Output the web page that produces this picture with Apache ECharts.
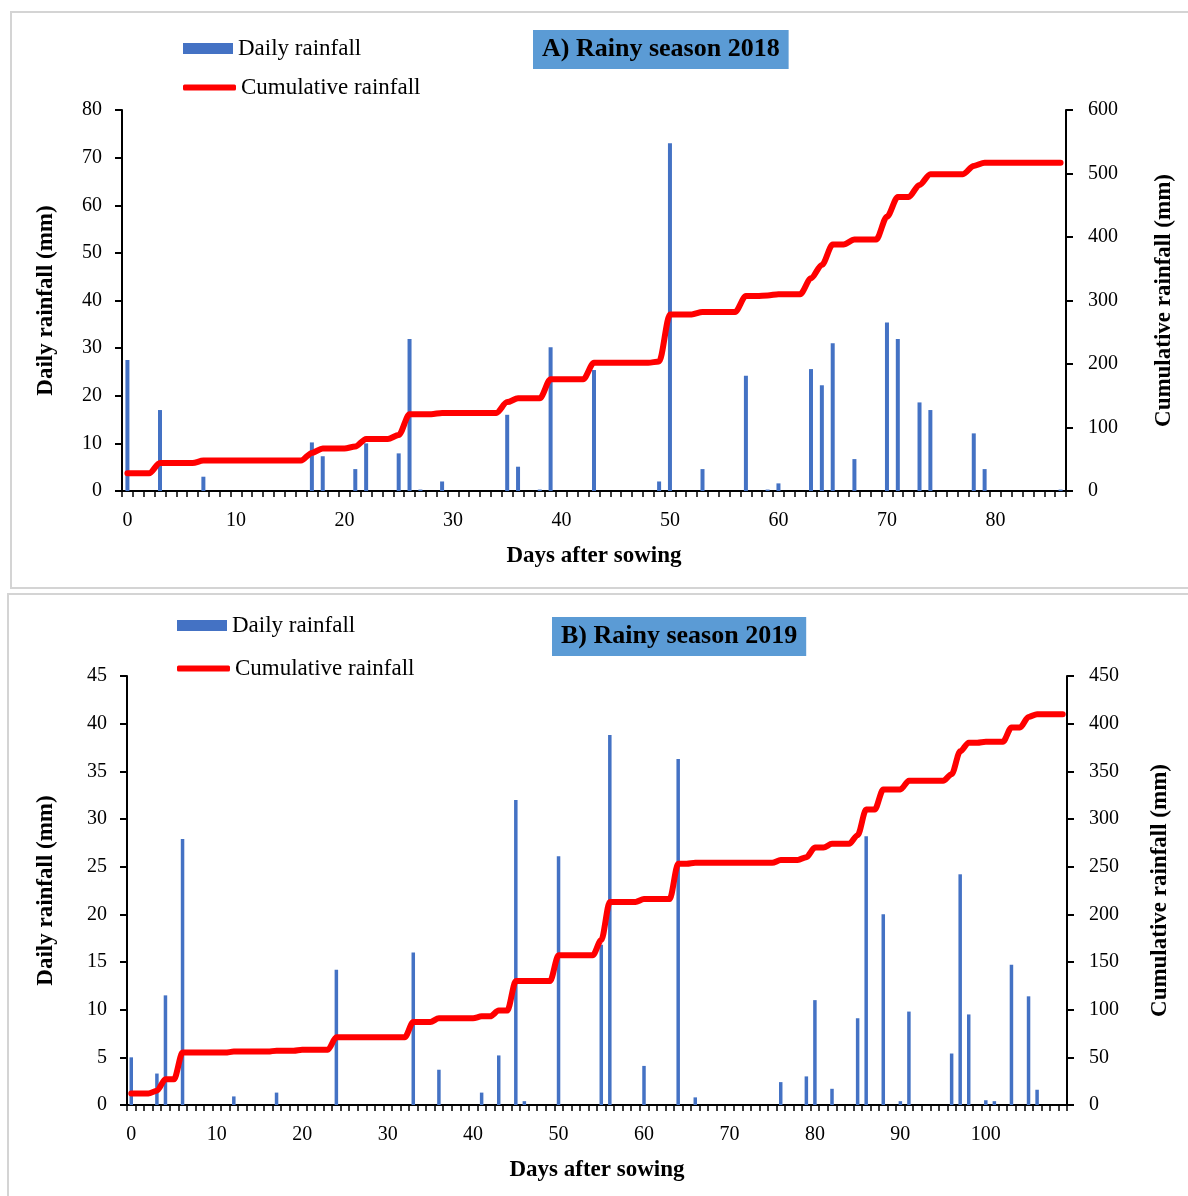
<!DOCTYPE html>
<html>
<head>
<meta charset="utf-8">
<title>Rainfall</title>
<script src="https://cdn.jsdelivr.net/npm/echarts@6/dist/echarts.min.js"></script>
<style>
  html, body { margin: 0; padding: 0; background: #fff; }
  #chart { width: 1188px; height: 1196px; }
</style>
</head>
<body>
<div id="chart"></div>
<script>
// A) Rainy season 2018, days 0..86 (mm)
const daily2018 = [
  27.5, 0, 0, 17.0, 0, 0, 0, 3.0, 0, 0,
  0, 0, 0, 0, 0, 0, 0, 10.2, 7.3, 0,
  0, 4.6, 10.0, 0, 0, 7.9, 31.9, 0.3, 0, 2.0,
  0, 0, 0, 0, 0, 16.0, 5.1, 0, 0.3, 30.2,
  0, 0, 0, 25.4, 0, 0, 0, 0, 0, 2.0,
  73.0, 0, 0, 4.6, 0, 0, 0, 24.2, 0, 0.3,
  1.6, 0, 0, 25.6, 22.2, 31.0, 0, 6.7, 0, 0,
  35.4, 31.9, 0, 18.6, 17.0, 0, 0, 0, 12.1, 4.6,
  0, 0, 0, 0, 0, 0, 0.3
]
const cum2018 = [
  28, 28, 28, 44, 44, 44, 44, 48, 48, 48,
  48, 48, 48, 48, 48, 48, 48, 60, 67, 67,
  67, 70, 82, 82, 82, 88, 121, 121, 121, 123,
  123, 123, 123, 123, 123, 140, 146, 146, 146, 176,
  176, 176, 176, 202, 202, 202, 202, 202, 202, 204,
  278, 278, 278, 282, 282, 282, 282, 307, 307, 308,
  310, 310, 310, 335, 356, 388, 388, 396, 396, 396,
  432, 463, 463, 482, 499, 499, 499, 499, 512, 517,
  517, 517, 517, 517, 517, 517, 517
]

// B) Rainy season 2019, days 0..109 (mm)
const daily2019 = [
  5.0, 0, 0, 3.3, 11.5, 0, 27.9, 0, 0, 0,
  0, 0, 0.9, 0, 0, 0, 0, 1.3, 0, 0,
  0, 0, 0, 0, 14.2, 0, 0, 0, 0, 0,
  0, 0, 0, 16.0, 0, 0, 3.7, 0, 0, 0,
  0, 1.3, 0, 5.2, 0, 32.0, 0.4, 0, 0, 0,
  26.1, 0, 0, 0, 0, 16.8, 38.8, 0, 0, 0,
  4.1, 0, 0, 0, 36.3, 0, 0.8, 0, 0, 0,
  0, 0, 0, 0, 0, 0, 2.4, 0, 0, 3.0,
  11.0, 0, 1.7, 0, 0, 9.1, 28.2, 0, 20.0, 0,
  0.4, 9.8, 0, 0, 0, 0, 5.4, 24.2, 9.5, 0,
  0.5, 0.4, 0, 14.7, 0, 11.4, 1.6, 0, 0, 0
]
const cum2019 = [
  12, 12, 12, 15, 27, 27, 55, 55, 55, 55,
  55, 55, 56, 56, 56, 56, 56, 57, 57, 57,
  58, 58, 58, 58, 71, 71, 71, 71, 71, 71,
  71, 71, 71, 87, 87, 87, 91, 91, 91, 91,
  91, 93, 93, 99, 99, 130, 130, 130, 130, 130,
  157, 157, 157, 157, 157, 173, 213, 213, 213, 213,
  216, 216, 216, 216, 253, 253, 254, 254, 254, 254,
  254, 254, 254, 254, 254, 254, 257, 257, 257, 260,
  270, 270, 274, 274, 274, 283, 310, 310, 331, 331,
  331, 340, 340, 340, 340, 340, 347, 371, 380, 380,
  381, 381, 381, 396, 396, 407, 410, 410, 410, 410
]

const days2018 = daily2018.map((v, i) => String(i))
const days2019 = daily2019.map((v, i) => String(i))

const font = '"Liberation Serif", "Times New Roman", serif'
const black = { color: '#000', width: 2 }

function xAxisOf (gridIndex, days) {
  return {
    type: 'category',
    gridIndex: gridIndex,
    data: days,
    boundaryGap: true,
    axisLine: { lineStyle: black },
    axisTick: { show: true, interval: 0, length: 6, lineStyle: { color: '#000', width: 1.5 } },
    axisLabel: { interval: 9, color: '#000', fontSize: 20, fontFamily: font, margin: 20 },
    name: 'Days after sowing',
    nameLocation: 'middle',
    nameGap: 54,
    nameTextStyle: { color: '#000', fontSize: 23, fontWeight: 'bold', fontFamily: font }
  }
}

function yAxisOf (gridIndex, position, max, interval, name, gap) {
  return {
    type: 'value',
    gridIndex: gridIndex,
    position: position,
    min: 0,
    max: max,
    interval: interval,
    splitLine: { show: false },
    axisLine: { show: true, lineStyle: black },
    axisTick: { show: true, length: 7, lineStyle: { color: '#000', width: 2 } },
    axisLabel: { color: '#000', fontSize: 20, fontFamily: font, margin: position === 'left' ? 20 : 22 },
    name: name,
    nameLocation: 'middle',
    nameRotate: 90,
    nameGap: gap,
    nameTextStyle: { color: '#000', fontSize: 23, fontWeight: 'bold', fontFamily: font }
  }
}

function legendOf (name, left, top, isLine) {
  return {
    data: [{ name: name, icon: isLine ? 'roundRect' : 'rect' }],
    left: left,
    top: top,
    padding: 0,
    itemWidth: isLine ? 53 : 50,
    itemHeight: isLine ? 6 : 11,
    selectedMode: false,
    textStyle: { color: '#000', fontSize: 23, fontFamily: font }
  }
}

function titleOf (text, left, top) {
  return {
    text: text,
    left: left,
    top: top,
    backgroundColor: '#5b9bd5',
    padding: [6, 9],
    textStyle: { color: '#000', fontSize: 26, lineHeight: 27, fontWeight: 'bold', fontFamily: font }
  }
}

const myChart = echarts.init(document.getElementById('chart'))

myChart.setOption({
  animation: false,
  backgroundColor: '#fff',
  graphic: [
    // panel frames
    { type: 'rect', shape: { x: 11, y: 12, width: 1200, height: 576 }, style: { fill: 'none', stroke: '#d4d4d4', lineWidth: 2 } },
    { type: 'rect', shape: { x: 8, y: 594, width: 1200, height: 620 }, style: { fill: 'none', stroke: '#d4d4d4', lineWidth: 2 } }
  ],
  title: [
    titleOf('A) Rainy season 2018', 533, 30),
    titleOf('B) Rainy season 2019', 552, 617)
  ],
  legend: [
    legendOf('Daily rainfall', 183, 37, false),
    legendOf('Cumulative rainfall', 183, 76, true),
    legendOf('Daily rainfall', 177, 614, false),
    legendOf('Cumulative rainfall', 177, 657, true)
  ],
  grid: [
    { left: 122, right: 122, top: 110, height: 381 },
    { left: 127, right: 121, top: 676, height: 429 }
  ],
  xAxis: [
    xAxisOf(0, days2018),
    xAxisOf(1, days2019)
  ],
  yAxis: [
    yAxisOf(0, 'left', 80, 10, 'Daily rainfall (mm)', 64),
    yAxisOf(0, 'right', 600, 100, 'Cumulative rainfall (mm)', 87),
    yAxisOf(1, 'left', 45, 5, 'Daily rainfall (mm)', 69),
    yAxisOf(1, 'right', 450, 50, 'Cumulative rainfall (mm)', 82)
  ],
  series: [
    {
      name: 'Daily rainfall',
      type: 'bar',
      xAxisIndex: 0,
      yAxisIndex: 0,
      barWidth: 4,
      data: daily2018,
      itemStyle: { color: '#4472c4' }
    },
    {
      name: 'Cumulative rainfall',
      type: 'line',
      xAxisIndex: 0,
      yAxisIndex: 1,
      data: cum2018,
      symbol: 'none',
      smooth: 0.3,
      smoothMonotone: 'x',
      z: 3,
      itemStyle: { color: '#ff0000' },
      lineStyle: { color: '#ff0000', width: 6, cap: 'round', join: 'round' }
    },
    {
      name: 'Daily rainfall',
      type: 'bar',
      xAxisIndex: 1,
      yAxisIndex: 2,
      barWidth: 3.5,
      data: daily2019,
      itemStyle: { color: '#4472c4' }
    },
    {
      name: 'Cumulative rainfall',
      type: 'line',
      xAxisIndex: 1,
      yAxisIndex: 3,
      data: cum2019,
      symbol: 'none',
      smooth: 0.3,
      smoothMonotone: 'x',
      z: 3,
      itemStyle: { color: '#ff0000' },
      lineStyle: { color: '#ff0000', width: 6, cap: 'round', join: 'round' }
    }
  ]
})
</script>
</body>
</html>
